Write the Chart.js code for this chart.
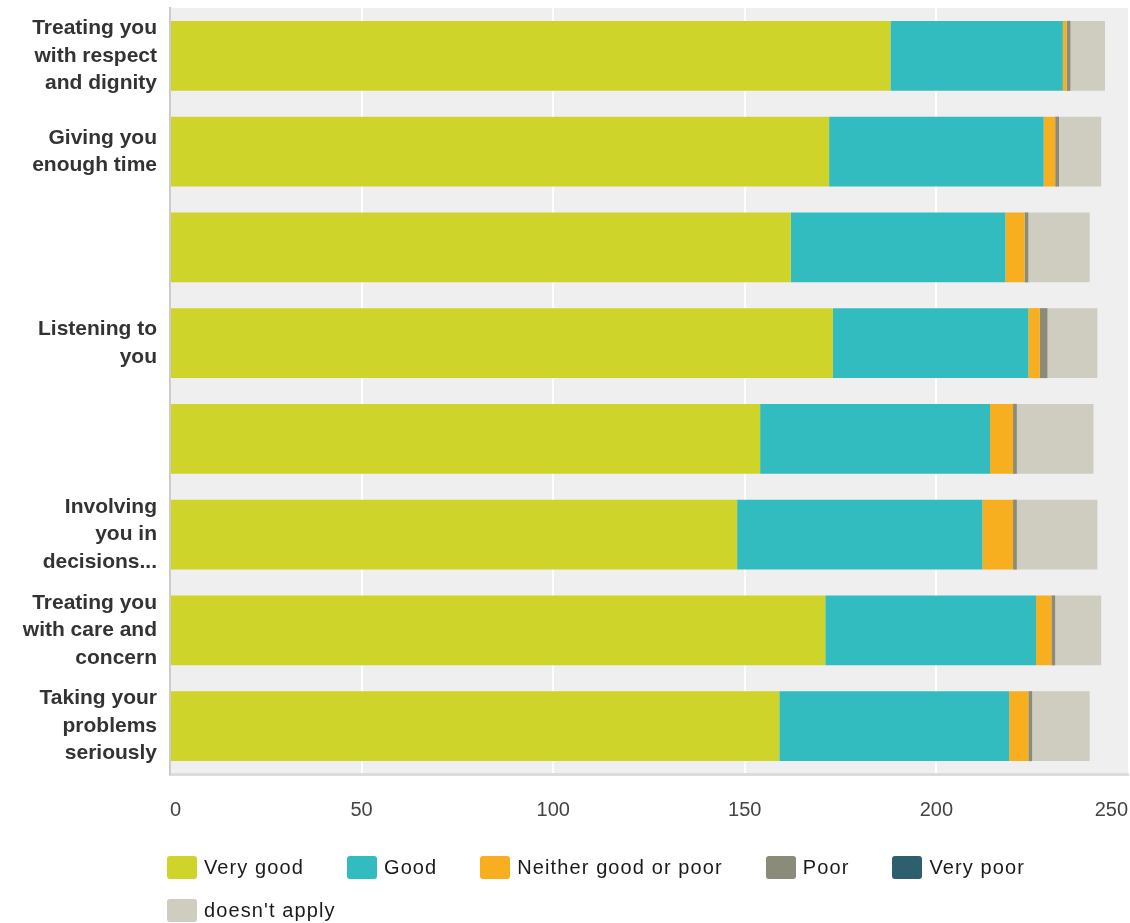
<!DOCTYPE html>
<html>
<head>
<meta charset="utf-8">
<script src="https://cdn.jsdelivr.net/npm/chart.js@4.4.1/dist/chart.umd.min.js"></script>
<style>
  html, body { margin: 0; padding: 0; background: #ffffff; }
  #wrap { position: relative; width: 1130px; height: 923px; overflow: hidden; }
  #c { position: absolute; left: 0; top: 0; }
  #legend { position: absolute; left: 167px; top: 856px; width: 961px; display: flex; flex-wrap: wrap; column-gap: 43px; row-gap: 20px;
    font-family: 'Liberation Sans', Arial, sans-serif; font-size: 20px; letter-spacing: 1.1px; color: #1a1a1a; }
  .item { display: flex; align-items: center; height: 23px; white-space: nowrap; }
  .box { width: 30px; height: 23px; border-radius: 3px; margin-right: 7px; flex: none; }
</style>
</head>
<body>
<div id="wrap">
  <canvas id="c" width="1130" height="923"></canvas>
  <div id="legend"></div>
</div>
<script>
const categories = [
  ["Treating you", "with respect", "and dignity"],
  ["Giving you", "enough time"],
  "",
  ["Listening to", "you"],
  "",
  ["Involving", "you in", "decisions..."],
  ["Treating you", "with care and", "concern"],
  ["Taking your", "problems", "seriously"]
];
const seriesNames = ["Very good", "Good", "Neither good or poor", "Poor", "Very poor", "doesn't apply"];
const veryGood    = [188, 172, 162, 173, 154, 148, 171, 159];
const good        = [45, 56, 56, 51, 60, 64, 55, 60];
const neither     = [1, 3, 5, 3, 6, 8, 4, 5];
const poor        = [1, 1, 1, 2, 1, 1, 1, 1];
const veryPoor    = [0, 0, 0, 0, 0, 0, 0, 0];
const doesntApply = [9, 11, 16, 13, 20, 21, 12, 15];
const xTickValues = [0, 50, 100, 150, 200, 250];
const colors = ["#cfd42a", "#33bcbf", "#f7ae1f", "#8b8b79", "#2e5f6e", "#cfcdbf"];

const seriesValues = [veryGood, good, neither, poor, veryPoor, doesntApply];
const datasets = seriesNames.map((name, i) => ({
  label: name,
  data: seriesValues[i],
  backgroundColor: colors[i],
  borderWidth: 0,
  barPercentage: 0.731,
  categoryPercentage: 1.0
}));

const plotBg = {
  id: 'plotBg',
  beforeDraw(chart) {
    const a = chart.chartArea, ctx = chart.ctx;
    ctx.save();
    ctx.fillStyle = '#efefef';
    ctx.fillRect(a.left, a.top, a.right - a.left, a.bottom - a.top);
    ctx.restore();
  }
};

const FONT = "'Liberation Sans', Arial, sans-serif";

const chart = new Chart(document.getElementById('c'), {
  type: 'bar',
  data: { labels: categories, datasets },
  plugins: [plotBg],
  options: {
    indexAxis: 'y',
    responsive: false,
    devicePixelRatio: 1,
    animation: false,
    layout: { padding: { top: 8, right: 2, left: 0, bottom: 0 } },
    plugins: {
      legend: { display: false },
      tooltip: { enabled: false }
    },
    scales: {
      x: {
        stacked: true,
        min: 0,
        max: 250,
        afterBuildTicks: (scale) => { scale.ticks = xTickValues.map(v => ({ value: v })); },
        afterFit: (scale) => { scale.height = 149; scale.paddingLeft = 0; scale.paddingRight = 0; },
        ticks: {
          align: 'inner',
          padding: 24,
          color: '#444444',
          font: { family: FONT, size: 20 }
        },
        grid: {
          color: (ctx) => (ctx.tick && ctx.tick.value === 250) ? 'rgba(0,0,0,0)' : '#ffffff',
          lineWidth: 2,
          drawTicks: false
        },
        border: { display: true, color: '#dcdcdc', width: 3 }
      },
      y: {
        stacked: true,
        afterFit: (scale) => { scale.width = 170; scale.paddingTop = 0; scale.paddingBottom = 0; },
        ticks: {
          padding: 13,
          color: '#333333',
          font: { family: FONT, size: 21, weight: 'bold', lineHeight: 1.31 }
        },
        grid: { display: false, drawTicks: false },
        border: { display: true, color: '#cccccc', width: 2 }
      }
    }
  }
});

// HTML legend built from the chart's datasets
const legendEl = document.getElementById('legend');
chart.data.datasets.forEach(ds => {
  const item = document.createElement('div');
  item.className = 'item';
  const box = document.createElement('span');
  box.className = 'box';
  box.style.background = ds.backgroundColor;
  const txt = document.createElement('span');
  txt.textContent = ds.label;
  item.appendChild(box);
  item.appendChild(txt);
  legendEl.appendChild(item);
});
</script>
</body>
</html>
